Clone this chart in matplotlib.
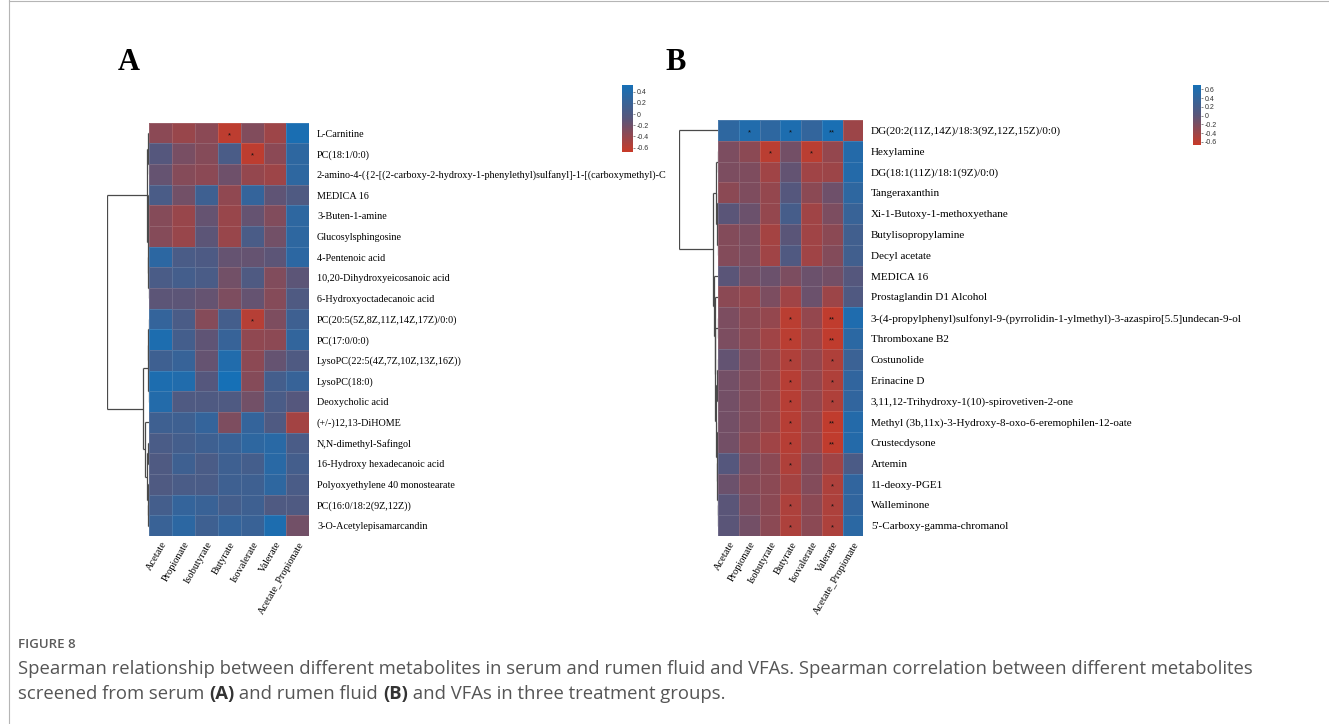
import numpy as np
import matplotlib
matplotlib.use("Agg")
import matplotlib.pyplot as plt
from matplotlib.colors import LinearSegmentedColormap, Normalize
from matplotlib.cm import ScalarMappable
from matplotlib.lines import Line2D

# ---------------- data ----------------
vfa_cols = ["Acetate", "Propionate", "Isobutyrate", "Butyrate", "Isovalerate",
            "Valerate", "Acetate_Propionate"]

a_rows = ["L-Carnitine", "PC(18:1/0:0)",
          "2-amino-4-({2-[(2-carboxy-2-hydroxy-1-phenylethyl)sulfanyl]-1-[(carboxymethyl)-C",
          "MEDICA 16", "3-Buten-1-amine", "Glucosylsphingosine", "4-Pentenoic acid",
          "10,20-Dihydroxyeicosanoic acid", "6-Hydroxyoctadecanoic acid",
          "PC(20:5(5Z,8Z,11Z,14Z,17Z)/0:0)", "PC(17:0/0:0)", "LysoPC(22:5(4Z,7Z,10Z,13Z,16Z))",
          "LysoPC(18:0)", "Deoxycholic acid", "(+/-)12,13-DiHOME", "N,N-dimethyl-Safingol",
          "16-Hydroxy hexadecanoic acid", "Polyoxyethylene 40 monostearate",
          "PC(16:0/18:2(9Z,12Z))", "3-O-Acetylepisamarcandin"]

a_vals = [
    [-0.35, -0.42, -0.35, -0.62, -0.30, -0.45, 0.48],
    [-0.05, -0.25, -0.32, 0.05, -0.62, -0.35, 0.30],
    [-0.15, -0.32, -0.35, -0.20, -0.40, -0.45, 0.30],
    [0.05, -0.22, 0.15, -0.38, 0.25, -0.12, 0.00],
    [-0.32, -0.42, -0.15, -0.42, -0.15, -0.30, 0.30],
    [-0.32, -0.42, -0.10, -0.42, 0.05, -0.22, 0.30],
    [0.32, 0.05, 0.02, -0.15, -0.15, -0.10, 0.32],
    [0.05, 0.10, 0.05, -0.22, 0.00, -0.30, -0.10],
    [-0.10, -0.10, -0.15, -0.28, -0.15, -0.32, 0.00],
    [0.25, 0.05, -0.32, 0.10, -0.58, -0.28, 0.15],
    [0.45, 0.10, -0.12, 0.22, -0.38, -0.36, 0.26],
    [0.15, 0.22, -0.15, 0.42, -0.36, -0.15, 0.00],
    [0.45, 0.42, -0.05, 0.55, -0.32, 0.10, 0.22],
    [0.40, 0.00, 0.00, 0.00, -0.22, 0.05, -0.05],
    [0.15, 0.15, 0.25, -0.28, 0.25, 0.00, -0.48],
    [0.05, 0.10, 0.15, 0.20, 0.30, 0.35, 0.05],
    [0.00, 0.15, 0.05, 0.15, 0.10, 0.35, 0.10],
    [0.00, 0.05, 0.05, 0.15, 0.15, 0.30, 0.05],
    [0.10, 0.25, 0.20, 0.10, 0.15, 0.00, 0.00],
    [0.20, 0.32, 0.15, 0.25, 0.20, 0.45, -0.22],
]
a_stars = [(0, 3, "*"), (1, 4, "*"), (9, 4, "*")]

b_rows = ["DG(20:2(11Z,14Z)/18:3(9Z,12Z,15Z)/0:0)", "Hexylamine", "DG(18:1(11Z)/18:1(9Z)/0:0)",
          "Tangeraxanthin", "Xi-1-Butoxy-1-methoxyethane", "Butylisopropylamine",
          "Decyl acetate", "MEDICA 16", "Prostaglandin D1 Alcohol",
          "3-(4-propylphenyl)sulfonyl-9-(pyrrolidin-1-ylmethyl)-3-azaspiro[5.5]undecan-9-ol",
          "Thromboxane B2", "Costunolide", "Erinacine D", "3,11,12-Trihydroxy-1(10)-spirovetiven-2-one",
          "Methyl (3b,11x)-3-Hydroxy-8-oxo-6-eremophilen-12-oate", "Crustecdysone", "Artemin",
          "11-deoxy-PGE1", "Walleminone", "5'-Carboxy-gamma-chromanol"]

b_vals = [
    [0.45, 0.58, 0.45, 0.62, 0.40, 0.66, -0.40],
    [-0.20, -0.30, -0.58, -0.15, -0.58, -0.35, 0.55],
    [-0.20, -0.22, -0.42, -0.05, -0.42, -0.40, 0.55],
    [-0.30, -0.22, -0.35, 0.05, -0.30, -0.12, 0.45],
    [0.00, -0.10, -0.35, 0.20, -0.42, -0.20, 0.35],
    [-0.25, -0.20, -0.45, 0.00, -0.42, -0.30, 0.25],
    [-0.25, -0.20, -0.42, 0.10, -0.42, -0.25, 0.25],
    [0.00, -0.15, -0.10, -0.20, -0.10, -0.15, 0.05],
    [-0.30, -0.35, -0.20, -0.42, -0.10, -0.40, 0.10],
    [-0.20, -0.30, -0.35, -0.58, -0.35, -0.62, 0.60],
    [-0.20, -0.30, -0.42, -0.58, -0.40, -0.62, 0.48],
    [-0.05, -0.22, -0.35, -0.52, -0.35, -0.52, 0.32],
    [-0.15, -0.25, -0.35, -0.56, -0.35, -0.52, 0.42],
    [-0.15, -0.25, -0.35, -0.56, -0.35, -0.52, 0.42],
    [-0.15, -0.25, -0.35, -0.56, -0.35, -0.62, 0.55],
    [-0.15, -0.30, -0.42, -0.56, -0.35, -0.62, 0.55],
    [0.05, -0.20, -0.30, -0.52, -0.25, -0.42, 0.15],
    [-0.10, -0.25, -0.30, -0.45, -0.25, -0.50, 0.42],
    [0.00, -0.20, -0.30, -0.50, -0.30, -0.50, 0.42],
    [0.00, -0.15, -0.30, -0.50, -0.30, -0.50, 0.48],
]
b_stars = [(0, 1, "*"), (0, 3, "*"), (0, 5, "**"), (1, 2, "*"), (1, 4, "*"),
           (9, 3, "*"), (9, 5, "**"), (10, 3, "*"), (10, 5, "**"),
           (11, 3, "*"), (11, 5, "*"), (12, 3, "*"), (12, 5, "*"),
           (13, 3, "*"), (13, 5, "*"), (14, 3, "*"), (14, 5, "**"),
           (15, 3, "*"), (15, 5, "**"), (16, 3, "*"), (17, 5, "*"),
           (18, 3, "*"), (18, 5, "*"), (19, 3, "*"), (19, 5, "*")]

# cluster trees: (height, left, right); leaves are row indices
a_tree = (1.0,
          (0.05, (0.035, 0, (0.015, 1, 2)),
                 (0.04, (0.02, 3, (0.01, 4, 5)), (0.025, 6, (0.012, 7, 8)))),
          (0.14, (0.03, (0.02, (0.012, 9, 10), 11), (0.01, 12, 13)),
                 (0.095, 14, (0.06, (0.03, 15, 16), (0.04, 17, (0.02, 18, 19))))))
b_tree = (1.0, 0,
          (0.13, (0.07, (0.02, 1, 2), (0.04, (0.015, 3, 4), (0.01, 5, 6))),
                 (0.11, 7,
                  (0.09, 8,
                   (0.08, (0.02, 9, 10),
                    (0.05, (0.03, (0.01, 11, 12), 13),
                     (0.04, (0.015, 14, 15), (0.03, 16, (0.02, 17, (0.01, 18, 19))))))))))

a_range = (-0.68, 0.52)
b_range = (-0.67, 0.70)
a_ticks = [-0.6, -0.4, -0.2, 0, 0.2, 0.4]
b_ticks = [-0.6, -0.4, -0.2, 0, 0.2, 0.4, 0.6]

# ---------------- drawing ----------------
W, H = 1329, 724
fig = plt.figure(figsize=(W / 100, H / 100), dpi=100)
serif = ["Liberation Serif", "DejaVu Serif"]

cmap = LinearSegmentedColormap.from_list(
    "rb", [(0.0, "#C83A28"), (0.5, "#58567A"), (1.0, "#1670B6")])


def box(l, t, r, b):
    return [l / W, 1 - b / H, (r - l) / W, (b - t) / H]


def draw_tree(ax, node):
    if isinstance(node, int):
        return node + 0.5, 0.0
    h, left, right = node
    yl, hl = draw_tree(ax, left)
    yr, hr = draw_tree(ax, right)
    kw = dict(color="#4a4a4a", lw=0.9, solid_capstyle="butt")
    ax.plot([hl, h], [yl, yl], **kw)
    ax.plot([hr, h], [yr, yr], **kw)
    ax.plot([h, h], [yl, yr], **kw)
    return (yl + yr) / 2, h


def panel(hm_box, dn_box, cb_box, rows, vals, stars, tree, rng, ticks, letter, letter_xy,
          label_size):
    n = len(rows)
    vals = np.array(vals)
    ax = fig.add_axes(box(*hm_box))
    norm = Normalize(vmin=rng[0], vmax=rng[1])
    ax.pcolormesh(np.arange(len(vfa_cols) + 1), np.arange(n + 1), vals, cmap=cmap,
                  norm=norm, edgecolors=(1, 1, 1, 0.13), linewidth=0.5)
    ax.set_xlim(0, len(vfa_cols))
    ax.set_ylim(n, 0)
    for s in ax.spines.values():
        s.set_visible(False)
    ax.yaxis.tick_right()
    ax.set_yticks(np.arange(n) + 0.5)
    ax.set_yticklabels(rows, fontsize=label_size, family=serif)
    ax.set_xticks(np.arange(len(vfa_cols)) + 0.5)
    ax.set_xticklabels(vfa_cols, fontsize=7.5, family=serif, rotation=60,
                       ha="right", va="top", rotation_mode="anchor")
    ax.tick_params(axis="y", length=0, pad=5.5)
    ax.tick_params(axis="x", length=0, pad=3)
    for r, c, s in stars:
        ax.text(c + 0.5, r + 0.62, s, ha="center", va="center", fontsize=5.5,
                color="#111111", family=["Liberation Sans"])

    dax = fig.add_axes(box(*dn_box))
    draw_tree(dax, tree)
    dax.set_xlim(1.0, 0.0)
    dax.set_ylim(n, 0)
    dax.axis("off")

    cax = fig.add_axes(box(*cb_box))
    sm = ScalarMappable(norm=norm, cmap=cmap)
    cb = fig.colorbar(sm, cax=cax, ticks=ticks)
    cb.outline.set_visible(False)
    cb.ax.set_yticklabels(["0" if t == 0 else f"{t:.1f}" for t in ticks])
    cb.ax.tick_params(labelsize=5, length=1.5, width=0.4, pad=1, colors="#333333")
    for lab in cb.ax.get_yticklabels():
        lab.set_family(["Liberation Sans"])

    fig.text(letter_xy[0] / W, 1 - letter_xy[1] / H, letter, fontsize=22, family=serif,
             fontweight="bold", ha="left", va="baseline")


panel((149.3, 122.7, 309.3, 536.0), (106.5, 122.7, 149.3, 536.0), (622, 85, 633, 152),
      a_rows, a_vals, a_stars, a_tree, a_range, a_ticks, "A", (118, 70), 7.3)
panel((718.3, 120.0, 863.3, 536.0), (679, 120.0, 718.3, 536.0), (1192.5, 85, 1201, 145),
      b_rows, b_vals, b_stars, b_tree, b_range, b_ticks, "B", (665, 70), 8.0)

# frame
fig.add_artist(Line2D([8.5 / W, 8.5 / W], [0, 1], color="#b5b5b5", lw=0.8))
fig.add_artist(Line2D([8.5 / W, 1], [1 - 1 / H, 1 - 1 / H], color="#b5b5b5", lw=0.8))

# caption
cap_font = ["Open Sans", "DejaVu Sans"]
cap_size = 13.3
fig.text(18 / W, 1 - 645 / H, "FIGURE 8", fontsize=9.5, family=cap_font,
         fontweight="semibold", color="#5a5a5a", va="center", ha="left")
line1 = ("Spearman relationship between different metabolites in serum and rumen fluid and VFAs. "
         "Spearman correlation between different metabolites")
fig.text(18 / W, 1 - 669 / H, line1, fontsize=cap_size, family=cap_font, color="#555555",
         va="center", ha="left")
renderer = fig.canvas.get_renderer()
pieces = [("screened from serum ", "normal", "#555555"), ("(A)", "bold", "#333333"),
          (" and rumen fluid ", "normal", "#555555"), ("(B)", "bold", "#333333"),
          (" and VFAs in three treatment groups.", "normal", "#555555")]
x = 18
for txt, wt, colr in pieces:
    t = fig.text(x / W, 1 - 694 / H, txt, fontsize=cap_size, family=cap_font, color=colr,
                 fontweight=wt, va="center", ha="left")
    bb = t.get_window_extent(renderer)
    x += bb.width

fig.savefig("out.png", dpi=100)
